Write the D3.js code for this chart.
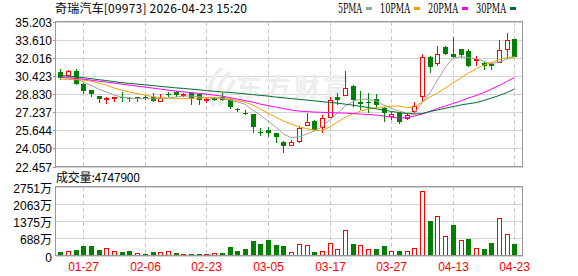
<!DOCTYPE html>
<html><head><meta charset="utf-8">
<script src="https://cdn.jsdelivr.net/npm/d3@7"></script>
<style>
html,body{margin:0;padding:0;background:#fff}
svg{display:block}
</style></head><body>
<div id="chart"></div>
<script>
// 奇瑞汽车 09973 日K（港股交易日）
const dates = ["01-22","01-23","01-26","01-27","01-28","01-29","01-30","02-02","02-03","02-04",
  "02-05","02-06","02-09","02-10","02-11","02-12","02-13","02-16","02-20","02-23",
  "02-24","02-25","02-26","02-27","03-02","03-03","03-04","03-05","03-06","03-09",
  "03-10","03-11","03-12","03-13","03-16","03-17","03-18","03-19","03-20","03-23",
  "03-24","03-25","03-26","03-27","03-30","03-31","04-01","04-02","04-08","04-09",
  "04-10","04-13","04-14","04-15","04-16","04-17","04-20","04-21","04-22","04-23"];
const open  = [30.78,30.49,30.87,29.70,29.17,28.67,28.42,28.56,28.54,28.44,
  28.53,28.54,28.53,28.23,28.80,29.00,28.78,28.88,28.80,28.34,
  28.44,28.53,28.36,27.52,27.20,27.07,25.53,25.66,25.37,24.64,
  24.35,24.72,26.13,26.45,25.95,26.83,28.53,28.73,29.55,28.15,
  28.15,28.36,27.57,26.89,27.13,26.69,27.33,28.65,32.04,31.57,
  32.92,32.31,32.77,32.60,31.85,31.57,31.46,31.66,32.77,33.65];
const high  = [30.99,30.97,30.99,29.79,29.22,28.69,28.53,28.60,29.02,28.58,
  28.53,28.73,28.88,28.82,29.02,29.08,28.88,28.91,28.82,28.58,
  28.56,28.88,28.47,27.62,27.42,27.11,25.81,25.95,25.40,24.67,
  24.78,26.01,27.13,26.54,26.98,28.53,28.88,30.84,29.61,29.08,
  28.88,28.80,27.71,27.27,27.20,27.13,28.09,32.33,32.16,33.04,
  33.04,33.80,32.82,32.77,32.16,31.63,31.66,33.56,34.15,33.65];
const low   = [30.05,30.40,29.61,28.80,28.53,28.06,27.92,28.15,28.15,28.15,
  28.15,28.30,28.15,28.15,28.53,28.58,28.58,27.86,27.86,28.01,
  28.21,28.23,27.48,27.22,26.98,25.43,25.14,25.07,24.55,23.67,
  24.26,24.49,26.10,25.60,25.37,26.78,27.86,28.65,27.65,27.42,
  27.18,27.71,26.39,26.54,26.19,26.54,27.13,28.09,30.69,31.31,
  32.25,31.96,31.96,31.22,31.28,30.93,30.93,31.66,31.87,32.04];
const close = [30.20,30.87,29.67,29.11,28.80,28.38,28.45,28.58,28.51,28.36,
  28.36,28.51,28.23,28.50,28.78,28.73,28.80,28.36,28.30,28.37,
  28.30,28.30,27.71,27.49,27.17,25.95,25.50,25.43,25.02,24.26,
  24.58,25.86,26.34,25.66,26.74,28.30,28.30,29.32,28.30,27.92,
  28.01,27.86,27.13,27.07,26.39,26.98,27.80,32.04,31.22,32.31,
  32.33,32.07,32.25,31.31,31.88,31.31,31.31,32.68,33.56,32.04];
const ma5  = [30.29,30.31,30.23,29.88,29.61,29.26,29.00,28.73,28.56,28.47,
  28.43,28.43,28.41,28.43,28.47,28.56,28.65,28.65,28.60,28.51,
  28.47,28.43,28.30,28.12,27.94,27.42,26.98,26.45,25.93,25.31,
  25.00,25.05,25.31,25.57,25.93,26.54,27.15,27.77,28.16,28.38,
  28.34,28.25,27.86,27.59,27.33,27.15,27.11,28.06,28.91,30.05,
  31.14,31.98,32.10,32.03,31.94,31.72,31.50,31.63,31.89,32.07];
const ma10 = [30.14,30.11,30.09,30.05,29.96,29.79,29.61,29.35,29.17,29.00,
  28.87,28.73,28.60,28.51,28.47,28.44,28.44,28.44,28.47,28.50,
  28.50,28.47,28.38,28.25,28.12,27.86,27.50,27.15,26.80,26.45,
  26.19,25.97,25.79,25.66,25.62,25.93,26.36,26.76,27.07,27.33,
  27.50,27.64,27.68,27.77,27.77,27.64,27.68,28.12,28.56,28.91,
  29.35,29.79,30.20,30.67,31.02,31.37,31.59,31.85,32.04,32.10];
const ma20 = [30.29,30.24,30.20,30.14,30.05,29.96,29.88,29.79,29.70,29.61,
  29.52,29.44,29.35,29.26,29.17,29.09,29.02,28.95,28.88,28.82,
  28.73,28.65,28.51,28.38,28.25,28.12,27.94,27.81,27.68,27.55,
  27.42,27.33,27.29,27.24,27.22,27.20,27.17,27.15,27.11,27.07,
  27.02,26.98,26.89,26.80,26.71,26.76,26.89,27.07,27.29,27.55,
  27.77,27.99,28.21,28.47,28.69,28.95,29.26,29.57,29.92,30.27];
const ma30 = [30.45,30.40,30.36,30.27,30.18,30.09,30.01,29.92,29.83,29.76,
  29.70,29.64,29.57,29.50,29.44,29.37,29.32,29.26,29.20,29.13,
  29.07,29.01,28.97,28.91,28.84,28.78,28.71,28.65,28.56,28.50,
  28.43,28.36,28.30,28.23,28.16,28.09,28.03,27.94,27.86,27.74,
  27.64,27.53,27.42,27.30,27.20,27.11,27.07,27.11,27.29,27.42,
  27.57,27.72,27.86,27.97,28.07,28.25,28.47,28.69,28.95,29.26];
// 成交量（万股）与涨跌着色（1 = 红）
const volume = [120,160,200,360,360,200,280,187,120,160,
  80,40,120,133,160,80,40,40,40,40,
  80,80,320,160,240,560,440,600,400,360,
  147,467,400,120,187,507,267,1027,467,427,
  267,240,360,187,187,187,307,2562,1361,1561,
  760,1201,600,640,307,240,480,1507,867,474.79];
const volUp = [0,1,0,0,0,0,1,1,0,0, 1,0,0,1,1,0,1,0,0,1, 1,0,0,0,0,0,0,0,0,0,
  1,1,1,0,1,1,1,1,0,1, 1,0,0,1,0,1,1,1,0,1, 1,0,1,0,1,0,0,1,1,0];
const priceTicks = [22.457,24.050,25.644,27.237,28.830,30.423,32.016,33.610,35.203];
const volTicks = [0,688,1375,2063,2751];
const dateTicks = ["01-27","02-06","02-23","03-05","03-17","03-27","04-13","04-23"];
const maSeries = [
  { name: "5PMA", values: ma5, color: "#a0a0a0" },
  { name: "10PMA", values: ma10, color: "#f0a000" },
  { name: "20PMA", values: ma20, color: "#ff00ff" },
  { name: "30PMA", values: ma30, color: "#006b32" },
];

(() => {
  const W = 578, H = 276;
  const L = 55.5, R = 522.5;
  const MT = 21.5, MB = 166.5, VT = 186.5, VB = 255.5;
  const RED = "#ff0000", GREEN = "#008000";
  const SANS = "'Liberation Sans', Arial, 'Noto Sans CJK SC', sans-serif";

  const svg = d3.select("#chart").append("svg")
    .attr("width", W).attr("height", H)
    .attr("viewBox", `0 0 ${W} ${H}`);

  const x = d3.scalePoint().domain(dates).range([60.2, 514.4]);
  const y = d3.scaleLinear().domain([priceTicks[0], priceTicks[priceTicks.length - 1]]).range([MB, MT]);
  const yv = d3.scaleLinear().domain([0, volTicks[volTicks.length - 1]]).range([VB, VT]);
  const px = d => Math.round(x(d));

  // ── 标题与图例 ──
  svg.append("text")
    .attr("x", 55).attr("y", 13)
    .attr("textLength", 192).attr("lengthAdjust", "spacing")
    .attr("style", "font:12px 'Noto Sans CJK SC', sans-serif;fill:#000")
    .text("奇瑞汽车[09973] 2026-04-23 15:20");

  let lx = 338;
  maSeries.forEach(s => {
    const w = s.name.length * 6;
    svg.append("text")
      .attr("x", lx).attr("y", 13)
      .attr("textLength", w).attr("lengthAdjust", "spacingAndGlyphs")
      .attr("style", "font:12px 'DejaVu Serif', serif;fill:#000")
      .text(s.name);
    svg.append("rect")
      .attr("x", lx + w + 4).attr("y", 7).attr("width", 6).attr("height", 3)
      .attr("fill", s.color);
    lx += w + 18;
  });

  // ── 网格 ──
  const grid = svg.append("g").attr("shape-rendering", "crispEdges");
  priceTicks.forEach(v => {
    const yy = Math.round(y(v)) + 0.5;
    grid.append("line").attr("x1", L).attr("x2", R).attr("y1", yy).attr("y2", yy)
      .attr("stroke", "#d4d4d4");
    grid.append("line").attr("x1", L - 3).attr("x2", L).attr("y1", yy).attr("y2", yy)
      .attr("stroke", "#999");
    svg.append("text")
      .attr("x", 52).attr("y", yy + 4).attr("text-anchor", "end")
      .attr("style", `font:12px ${SANS};fill:#000`)
      .text(d3.format(".3f")(v));
  });
  volTicks.forEach(v => {
    const yy = Math.round(yv(v)) + 0.5;
    grid.append("line").attr("x1", L).attr("x2", R).attr("y1", yy).attr("y2", yy)
      .attr("stroke", "#d4d4d4");
    svg.append("text")
      .attr("x", 52).attr("y", yy + 5).attr("text-anchor", "end")
      .attr("style", `font:12px ${SANS};fill:#000`)
      .text(v === 0 ? "0" : v + "万");
  });
  dateTicks.forEach(d => {
    const xx = px(d) + 0.5;
    [[MT, MB], [VT, VB]].forEach(([a, b]) =>
      grid.append("line").attr("x1", xx).attr("x2", xx).attr("y1", a).attr("y2", b)
        .attr("stroke", "#c8c8c8").attr("stroke-dasharray", "4 3"));
    svg.append("text")
      .attr("x", xx).attr("y", 271).attr("text-anchor", "middle")
      .attr("style", `font:12px ${SANS};fill:${RED}`)
      .text(d);
  });

  // ── 水印 ──
  svg.append("text")
    .attr("x", 236).attr("y", 97)
    .attr("style", "font:bold 26px 'Noto Sans CJK SC', sans-serif;fill:#ededed;letter-spacing:3px")
    .text("东方财富");
  const wm = svg.append("g").attr("fill", "none").attr("stroke", "#ededed").attr("stroke-width", 4);
  wm.append("path").attr("d", "M214 106 C206 92 210 78 222 68");
  wm.append("path").attr("d", "M221 106 C216 92 220 80 230 72");
  wm.append("path").attr("d", "M228 106 C226 94 229 86 235 80");

  // ── K 线 ──
  const kg = svg.append("g").attr("shape-rendering", "crispEdges");
  dates.forEach((d, i) => {
    const o = open[i], c = close[i], h = high[i], l = low[i];
    const cx = px(d) + 0.5;
    const top = Math.round(y(Math.max(o, c))), bot = Math.round(y(Math.min(o, c)));
    const up = c > o;
    const col = up ? RED : GREEN;
    if (up) {
      kg.append("line").attr("x1", cx).attr("x2", cx).attr("y1", y(h)).attr("y2", top + 0.5).attr("stroke", col);
      kg.append("line").attr("x1", cx).attr("x2", cx).attr("y1", bot + 0.5).attr("y2", y(l)).attr("stroke", col);
      kg.append("rect").attr("x", cx - 2).attr("y", top + 0.5)
        .attr("width", 4).attr("height", Math.max(1, bot - top))
        .attr("fill", "#fff").attr("stroke", col);
    } else {
      kg.append("line").attr("x1", cx).attr("x2", cx).attr("y1", y(h)).attr("y2", y(l)).attr("stroke", col);
      kg.append("rect").attr("x", cx - 2.5).attr("y", top)
        .attr("width", 5).attr("height", Math.max(1, bot - top))
        .attr("fill", col);
    }
  });

  // ── 均线 ──
  maSeries.forEach(s => {
    svg.append("path")
      .attr("d", d3.line().x((v, i) => x(dates[i])).y(v => y(v))(s.values))
      .attr("fill", "none").attr("stroke", s.color).attr("stroke-width", 1);
  });

  // ── 成交量 ──
  svg.append("text")
    .attr("x", 56).attr("y", 182)
    .attr("style", "font:12px 'Noto Sans CJK SC', sans-serif;fill:#000")
    .attr("textLength", 84).attr("lengthAdjust", "spacing")
    .text("成交量:" + Math.round(volume[volume.length - 1] * 10000));
  const vg = svg.append("g").attr("shape-rendering", "crispEdges");
  dates.forEach((d, i) => {
    const cx = px(d) + 0.5;
    const top = Math.round(yv(volume[i]));
    const hgt = Math.max(1, Math.round(yv(0)) - top);
    if (volUp[i]) {
      vg.append("rect").attr("x", cx - 2).attr("y", top + 0.5)
        .attr("width", 4).attr("height", Math.max(1, hgt - 1))
        .attr("fill", "#fff").attr("stroke", RED);
    } else {
      vg.append("rect").attr("x", cx - 2.5).attr("y", top)
        .attr("width", 5).attr("height", hgt).attr("fill", GREEN);
    }
  });

  // ── 边框 ──
  const bd = svg.append("g").attr("fill", "none").attr("stroke", "#999").attr("shape-rendering", "crispEdges");
  bd.append("rect").attr("x", L).attr("y", MT).attr("width", R - L).attr("height", MB - MT);
  bd.append("rect").attr("x", L).attr("y", VT).attr("width", R - L).attr("height", VB - VT);
})();
</script>
</body></html>
